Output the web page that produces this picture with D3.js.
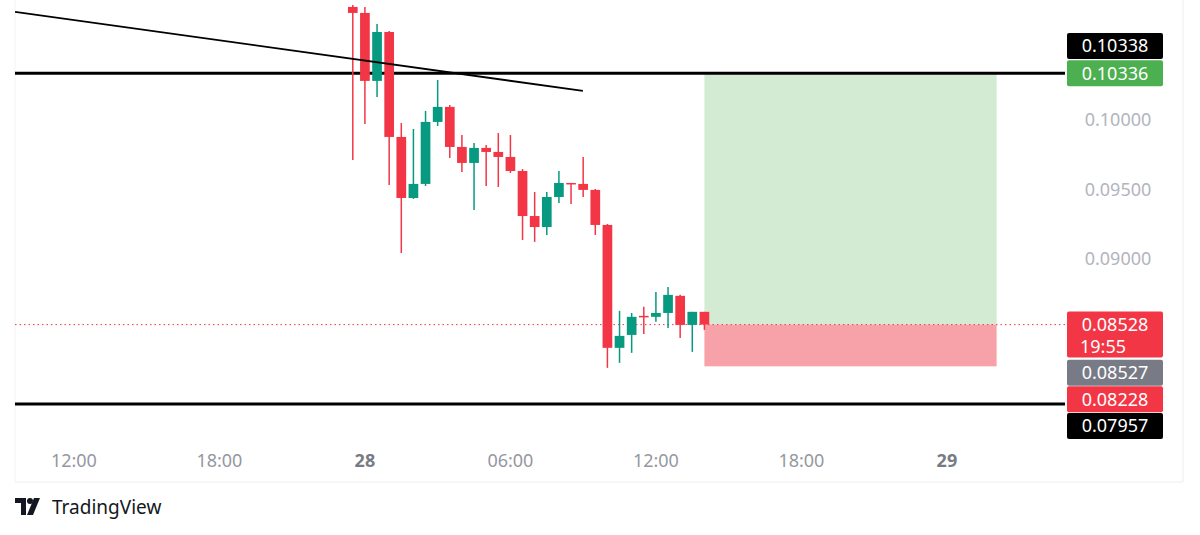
<!DOCTYPE html>
<html>
<head>
<meta charset="utf-8">
<script src="https://cdn.jsdelivr.net/npm/d3@7"></script>
<style>
  body { margin: 0; background: #fff; }
  svg { font-family: "Noto Sans", sans-serif; }
</style>
</head>
<body>
<script>
// candle data: 30 min bars, time in hours from 27th 00:00
var startHour = 23.5;
var opens  = [0.10813,0.10770,0.10281,0.10633,0.09878,0.09439,0.09540,0.09986,0.10094,0.09806,0.09691,0.09799,0.09770,0.09734,0.09633,0.09309,0.09230,0.09446,0.09547,0.09540,0.09497,0.09245,0.08361,0.08454,0.08591,0.08584,0.08612,0.08735,0.08526,0.08620];
var highs  = [0.10830,0.10813,0.10691,0.10640,0.09978,0.09935,0.10065,0.10288,0.10108,0.09892,0.09835,0.09820,0.09906,0.09892,0.09647,0.09482,0.09482,0.09633,0.09547,0.09734,0.09504,0.09252,0.08627,0.08612,0.08656,0.08763,0.08799,0.08742,0.08620,0.08620];
var lows   = [0.09712,0.09971,0.10165,0.09532,0.09043,0.09432,0.09525,0.09957,0.09727,0.09626,0.09353,0.09525,0.09518,0.09619,0.09137,0.09123,0.09173,0.09403,0.09396,0.09446,0.09173,0.08217,0.08253,0.08325,0.08461,0.08548,0.08504,0.08432,0.08332,0.08490];
var closes = [0.10770,0.10281,0.10633,0.09878,0.09439,0.09540,0.09986,0.10094,0.09806,0.09691,0.09799,0.09770,0.09734,0.09633,0.09309,0.09230,0.09446,0.09547,0.09540,0.09497,0.09245,0.08361,0.08447,0.08584,0.08584,0.08612,0.08742,0.08526,0.08620,0.08528];

var priceTicks = [0.10000, 0.09500, 0.09000];
var timeTicks = [12, 18, 24, 30, 36, 42, 48];
var timeLabels = ["12:00", "18:00", "28", "06:00", "12:00", "18:00", "29"];

var hLines = [0.10336, 0.07957];
var trendTimes = [9.57, 32.99];
var trendPrices = [0.10777, 0.10209];
var posTimes = [38.0, 50.05];
var posPrices = { target: 0.10336, entry: 0.08528, stop: 0.08228 };

var tags = [
  { text: "0.10338", price: 0.10338, bg: "#000000", shift: -27 },
  { text: "0.10336", price: 0.10336, bg: "#4caf50", shift: 0 },
  { text: "0.08528", price: 0.08528, bg: "#f23645", shift: 0, sub: "19:55" },
  { text: "0.08527", price: 0.08527, bg: "#787b86", shift: 48 },
  { text: "0.08228", price: 0.08228, bg: "#f23645", shift: 33 },
  { text: "0.07957", price: 0.07957, bg: "#000000", shift: 22 }
];

var W = 1200, H = 535;
var plot = { left: 15, right: 1065, top: 5, bottom: 482 };
var up = "#089981", down = "#f23645";

var svg = d3.select("body").append("svg").attr("width", W).attr("height", H);

var x = d3.scaleLinear().domain([9.57, 52.87]).range([plot.left, plot.right]);
var y = d3.scaleLinear().domain([0.07396, 0.10827]).range([plot.bottom, plot.top]);

svg.append("clipPath").attr("id", "clip").append("rect")
  .attr("x", plot.left).attr("y", plot.top)
  .attr("width", plot.right - plot.left).attr("height", plot.bottom - plot.top);

// frame
svg.append("line").attr("x1", plot.left).attr("x2", 1183).attr("y1", plot.bottom).attr("y2", plot.bottom)
  .attr("stroke", "#eeeeee");
svg.append("line").attr("x1", 1183).attr("x2", 1183).attr("y1", 0).attr("y2", plot.bottom)
  .attr("stroke", "#eeeeee");
svg.append("line").attr("x1", plot.left).attr("x2", plot.left).attr("y1", 0).attr("y2", plot.bottom)
  .attr("stroke", "#f4f4f4");

var g = svg.append("g").attr("clip-path", "url(#clip)");

// position box
g.append("rect")
  .attr("x", x(posTimes[0])).attr("width", x(posTimes[1]) - x(posTimes[0]))
  .attr("y", y(posPrices.target)).attr("height", y(posPrices.entry) - y(posPrices.target))
  .attr("fill", "#d3ebd3");
g.append("rect")
  .attr("x", x(posTimes[0])).attr("width", x(posTimes[1]) - x(posTimes[0]))
  .attr("y", y(posPrices.entry)).attr("height", y(posPrices.stop) - y(posPrices.entry))
  .attr("fill", "#f7a1a8");

// horizontal lines
g.selectAll(".hl").data(hLines).enter().append("line")
  .attr("x1", plot.left).attr("x2", plot.right)
  .attr("y1", d => y(d)).attr("y2", d => y(d))
  .attr("stroke", "#000").attr("stroke-width", 3);

// current price dotted line
g.append("line").attr("x1", plot.left).attr("x2", plot.right)
  .attr("y1", y(closes[closes.length - 1])).attr("y2", y(closes[closes.length - 1]))
  .attr("stroke", down).attr("stroke-dasharray", "1.5,3").attr("stroke-width", 1);

// candles
var data = opens.map(function(o, i) {
  return { t: startHour + i * 0.5, o: o, h: highs[i], l: lows[i], c: closes[i] };
});
var bw = (x(0.5) - x(0)) * 0.8;
var cg = g.selectAll(".candle").data(data).enter().append("g");
cg.append("line")
  .attr("x1", d => x(d.t)).attr("x2", d => x(d.t))
  .attr("y1", d => y(d.h)).attr("y2", d => y(d.l))
  .attr("stroke", d => d.c >= d.o ? up : down).attr("stroke-width", 1.5);
cg.append("rect")
  .attr("x", d => x(d.t) - bw / 2).attr("width", bw)
  .attr("y", d => y(Math.max(d.o, d.c)))
  .attr("height", d => Math.max(1.5, Math.abs(y(d.o) - y(d.c))))
  .attr("fill", d => d.c >= d.o ? up : down);

// trend line
g.append("line")
  .attr("x1", x(trendTimes[0])).attr("y1", y(trendPrices[0]))
  .attr("x2", x(trendTimes[1])).attr("y2", y(trendPrices[1]))
  .attr("stroke", "#000").attr("stroke-width", 1.8);

// price axis ticks
svg.selectAll(".pt").data(priceTicks).enter().append("text")
  .attr("x", 1118).attr("y", d => y(d)).attr("dy", "0.35em")
  .attr("text-anchor", "middle").attr("font-size", 18).attr("fill", "#b2b5be")
  .text(d => d.toFixed(5));

// price tags
var tg = svg.selectAll(".tag").data(tags).enter().append("g")
  .attr("transform", d => "translate(1067," + (y(d.price) + d.shift) + ")");
tg.append("rect").attr("x", 0).attr("width", 96)
  .attr("y", -13).attr("height", d => d.sub ? 46 : 26)
  .attr("rx", 2).attr("fill", d => d.bg);
tg.append("text").attr("x", 48).attr("dy", "0.35em").attr("text-anchor", "middle")
  .attr("font-size", 18).attr("fill", "#fff").text(d => d.text);
tg.filter(d => d.sub).append("text").attr("x", 13).attr("y", 22).attr("dy", "0.35em")
  .attr("font-size", 18).attr("fill", "#fff").text(d => d.sub);

// time axis
svg.selectAll(".tt").data(timeTicks).enter().append("text")
  .attr("x", d => x(d)).attr("y", 461).attr("dy", "0.35em")
  .attr("text-anchor", "middle").attr("font-size", 18)
  .attr("fill", (d, i) => timeLabels[i].length < 3 ? "#787b86" : "#9598a1")
  .attr("font-weight", (d, i) => timeLabels[i].length < 3 ? "bold" : "normal")
  .text((d, i) => timeLabels[i]);

// logo
var logo = svg.append("g").attr("transform", "translate(15,498)");
logo.append("path").attr("d", "M0 0 H11 V17 H6 V5 H0 Z").attr("fill", "#131722");
logo.append("circle").attr("cx", 15).attr("cy", 3).attr("r", 3).attr("fill", "#131722");
logo.append("path").attr("d", "M19 0 H25 L18 17 H12 Z").attr("fill", "#131722");
logo.append("text").attr("x", 37).attr("y", 9).attr("dy", "0.35em")
  .attr("font-size", 19).attr("fill", "#131722").text("TradingView");
</script>
</body>
</html>
